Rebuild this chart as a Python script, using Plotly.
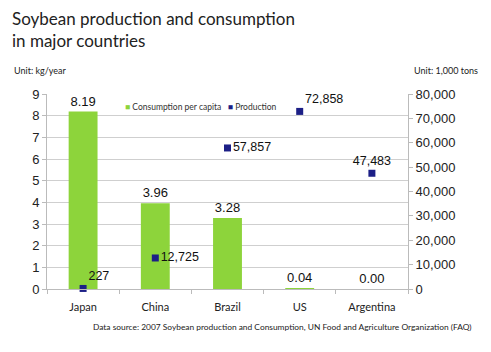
import plotly.graph_objects as go

countries = ["Japan", "China", "Brazil", "US", "Argentina"]
consumption = [8.19, 3.96, 3.28, 0.04, 0.00]
production = [227, 12725, 57857, 72858, 47483]
prod_text_pos = ["top right", "middle right", "middle right", "top right", "top center"]

W, H = 491, 352
L, R, T, B = 47, 83, 94, 63
PW, PH = W - L - R, H - T - B

def px(x):
    return (x - L) / PW

def py(y):
    return (H - B - y) / PH

GREEN = "#8dd43b"
NAVY = "#1c1f86"

fig = go.Figure()
fig.add_trace(go.Bar(
    x=countries, y=consumption, name="Consumption per capita",
    marker=dict(color=GREEN, line=dict(width=0)), width=0.4,
    text=[f"{v:.2f}" for v in consumption], textposition="outside",
    textfont=dict(family="Arial", size=13, color="#111"), cliponaxis=False,
))
fig.add_trace(go.Scatter(
    x=countries, y=production, yaxis="y2", name="Production", mode="markers+text",
    marker=dict(symbol="square", size=7, color=NAVY),
    text=[f"{v:,}" for v in production], textposition=prod_text_pos,
    textfont=dict(family="Arial", size=12.5, color="#111"), cliponaxis=False,
))

fig.update_layout(
    width=W, height=H, margin=dict(l=L, r=R, t=T, b=B),
    paper_bgcolor="white", plot_bgcolor="white",
    font=dict(family="Arial", color="#222"),
    showlegend=False,
    xaxis=dict(tickson="boundaries", ticks="outside", ticklen=4, tickcolor="#bbb",
               showline=True, linecolor="#bbb", linewidth=1, ticklabelstandoff=8,
               tickfont=dict(family="Lato", size=11, color="#222")),
    yaxis=dict(range=[0, 9], dtick=1, showgrid=True, gridcolor="#cfcfcf",
               showline=True, linecolor="#bbb", ticks="outside", ticklen=4, tickcolor="#bbb",
               tickfont=dict(family="Arial", size=13, color="#222"), zeroline=False),
    yaxis2=dict(range=[0, 80000], dtick=10000, overlaying="y", side="right",
                showgrid=False, showline=True, linecolor="#bbb", ticks="outside",
                ticklen=4, tickcolor="#bbb", tickformat=",",
                tickfont=dict(family="Arial", size=13, color="#222"), zeroline=False),
    annotations=[
        dict(text="Soybean production and consumption<br>in major countries",
             xref="paper", yref="paper", x=px(10), y=py(6), xanchor="left", yanchor="top",
             align="left", showarrow=False,
             font=dict(family="Lato", size=17, color="#222")),
        dict(text="Unit: kg/year", xref="paper", yref="paper",
             x=px(12), y=py(70), xanchor="left", yanchor="middle",
             showarrow=False, font=dict(family="Lato", size=9, color="#222")),
        dict(text="Unit: 1,000 tons", xref="paper", yref="paper",
             x=px(480), y=py(70), xanchor="right", yanchor="middle",
             showarrow=False, font=dict(family="Lato", size=9, color="#222")),
        dict(text=f"<span style='color:{GREEN}'>■</span> Consumption per capita   "
                  f"<span style='color:{NAVY}'>■</span> Production",
             xref="paper", yref="paper", x=px(123), y=py(107), xanchor="left", yanchor="middle",
             showarrow=False, font=dict(family="Lato", size=8.5, color="#333")),
        dict(text="Data source: 2007 Soybean production and Consumption, UN Food and Agriculture Organization (FAQ)",
             xref="paper", yref="paper",
             x=px(474), y=py(327), xanchor="right", yanchor="middle",
             showarrow=False, font=dict(family="Lato", size=8.4, color="#222")),
    ],
)

fig.write_html("out.html")
